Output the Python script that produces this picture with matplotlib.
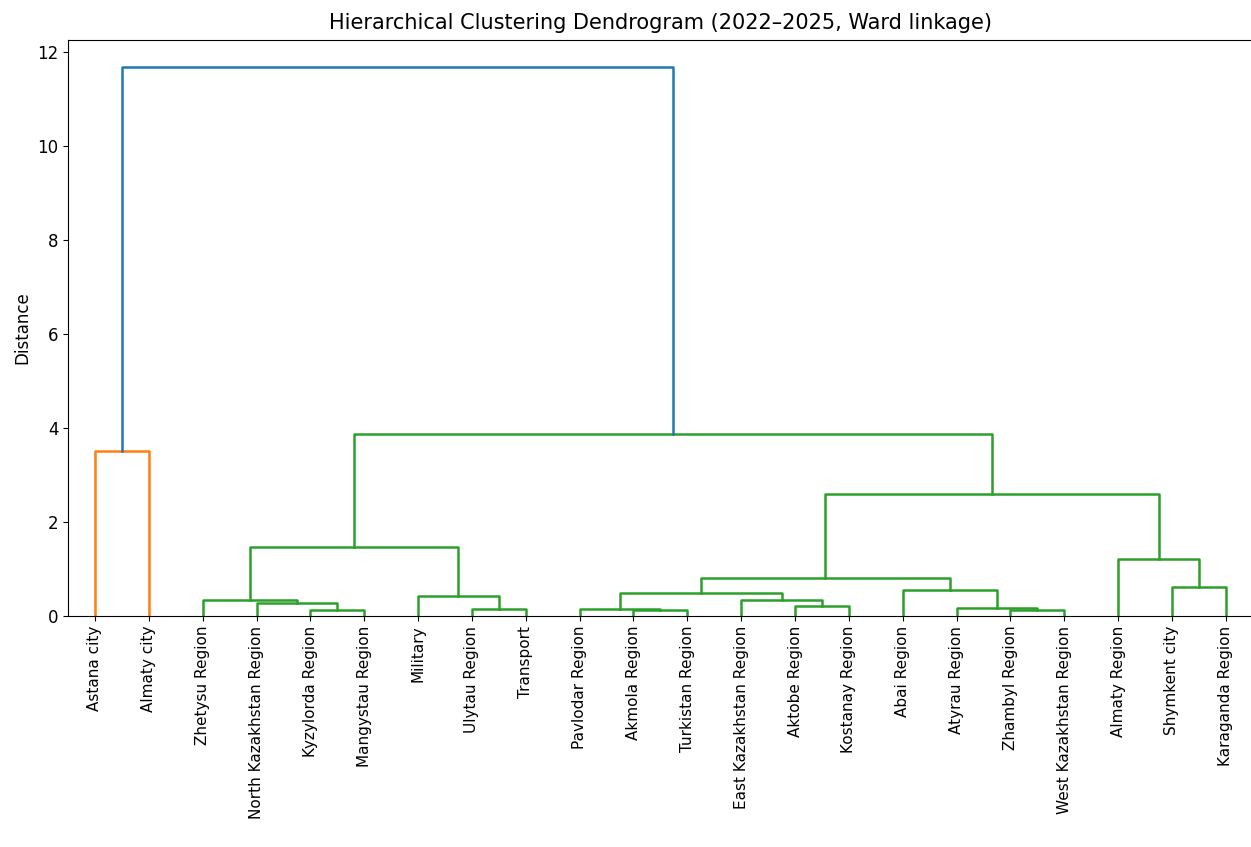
import matplotlib
matplotlib.use("Agg")
import matplotlib.pyplot as plt

# leaf labels in the order they appear along the x axis
labels = [
    "Astana city", "Almaty city", "Zhetysu Region", "North Kazakhstan Region",
    "Kyzylorda Region", "Mangystau Region", "Military", "Ulytau Region",
    "Transport", "Pavlodar Region", "Akmola Region", "Turkistan Region",
    "East Kazakhstan Region", "Aktobe Region", "Kostanay Region", "Abai Region",
    "Atyrau Region", "Zhambyl Region", "West Kazakhstan Region", "Almaty Region",
    "Shymkent city", "Karaganda Region",
]

# linkage rows: left id, right id, merge distance (new ids start at len(labels))
left_ids = [10, 17, 4, 9, 7, 16, 13, 3, 2, 12, 6, 25, 15, 20, 33, 19, 30, 36, 0, 38, 40]
right_ids = [11, 18, 5, 22, 8, 23, 14, 24, 29, 28, 26, 31, 27, 21, 34, 35, 32, 37, 1, 39, 41]
heights = [0.13, 0.13, 0.13, 0.15, 0.15, 0.18, 0.21, 0.27, 0.34, 0.34, 0.43,
           0.48, 0.55, 0.61, 0.82, 1.21, 1.47, 2.60, 3.51, 3.87, 11.68]

n = len(labels)
pos = {i: 5 + 10 * i for i in range(n)}
hgt = {i: 0.0 for i in range(n)}
links = []
for k, (a, b, h) in enumerate(zip(left_ids, right_ids, heights)):
    node = n + k
    pos[node] = (pos[a] + pos[b]) / 2
    hgt[node] = h
    links.append((node, a, b, h))

# colour clusters below 0.7 * max distance, like scipy's default threshold
threshold = 0.7 * max(heights)
palette = ["C1", "C2", "C3", "C4"]
color = {}
root = n + len(heights) - 1
children = {node: (a, b) for node, a, b, _ in links}


def paint(node, c):
    color[node] = c
    if node in children:
        for ch in children[node]:
            paint(ch, c)


def assign(node, idx):
    if node < n:
        return idx
    if hgt[node] < threshold:
        paint(node, palette[idx % len(palette)])
        return idx + 1
    color[node] = "C0"
    for ch in children[node]:
        idx = assign(ch, idx)
    return idx


assign(root, 0)

fig = plt.figure(figsize=(12.51, 8.47), dpi=100)
ax = fig.add_axes([0.0544, 0.2727, 0.947, 0.6801])

for node, a, b, h in links:
    xs = [pos[a], pos[a], pos[b], pos[b]]
    ys = [hgt[a], h, h, hgt[b]]
    ax.plot(xs, ys, color=color[node], linewidth=1.8)

ax.set_xlim(0, 10 * n)
ax.set_ylim(0, max(heights) * 1.05)
ax.set_xticks([pos[i] for i in range(n)])
ax.set_xticklabels(labels, rotation=90, fontsize=11)
ax.tick_params(axis="y", labelsize=12)
ax.set_ylabel("Distance", fontsize=12)
ax.set_title("Hierarchical Clustering Dendrogram (2022–2025, Ward linkage)",
             fontsize=15, pad=8)

fig.savefig("out.png", dpi=100)
